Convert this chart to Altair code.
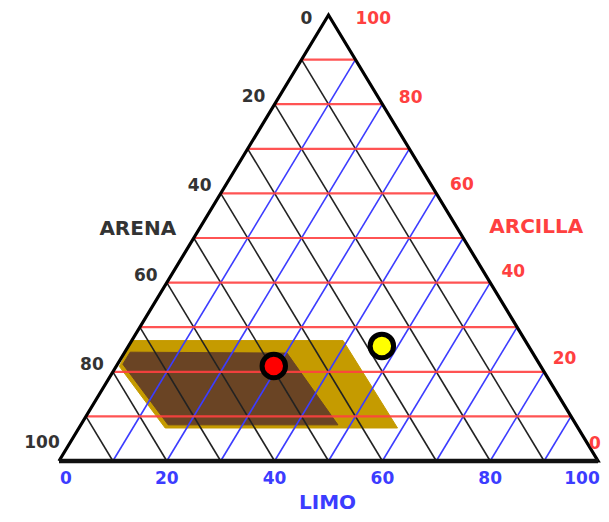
import altair as alt
import pandas as pd

# ---------------- data ----------------
grid_levels = [10, 20, 30, 40, 50, 60, 70, 80, 90]
tick_levels = [0, 20, 40, 60, 80, 100]

sample_names = ["Muestra A", "Muestra B"]
sample_sand = [49.5, 27.2]
sample_silt = [29.2, 47.0]
sample_clay = [21.3, 25.8]

# textural region (outer = wide band, inner = core), vertices as (clay, silt)
outer_clay = [27.0, 27.0, 7.4, 7.4, 21.2]
outer_silt = [0.0, 39.2, 59.1, 16.0, 0.6]
inner_clay = [24.4, 24.2, 8.1, 8.1, 21.7]
inner_silt = [1.0, 30.2, 47.7, 16.2, 1.0]

TITLE_SAND = "ARENA"
TITLE_CLAY = "ARCILLA"
TITLE_SILT = "LIMO"

# ---------------- layout ----------------
W, H = 593, 506
PX_LEFT, PX_RIGHT = 51, 590
PY_BASE, PY_APEX = 453, 7
KX = (PX_RIGHT - PX_LEFT) / 100.0
KY = (PY_BASE - PY_APEX) / 100.0
XMIN = -PX_LEFT / KX
XMAX = XMIN + W / KX
YMAX = 100 + PY_APEX / KY
YMIN = YMAX - H / KY

RED = "#ff4040"
BLUE = "#3c3cff"
DARK = "#222222"
FONT = "DejaVu Sans"


def cart(silt, clay):
    return silt + clay / 2.0, clay


def shift(x, y, dx, dy):
    return x + dx / KX, y - dy / KY


xs = alt.Scale(domain=[XMIN, XMAX], nice=False, zero=False)
ys = alt.Scale(domain=[YMIN, YMAX], nice=False, zero=False)
X = alt.X("x:Q", scale=xs, axis=None)
Y = alt.Y("y:Q", scale=ys, axis=None)

# grid lines
red_rows, black_rows, blue_rows = [], [], []
for v in grid_levels:
    x1, y1 = cart(0, v)
    x2, y2 = cart(100 - v, v)
    red_rows.append(dict(x=x1, y=y1, x2=x2, y2=y2))
    x1, y1 = cart(0, 100 - v)
    x2, y2 = cart(100 - v, 0)
    black_rows.append(dict(x=x1, y=y1, x2=x2, y2=y2))
    x1, y1 = cart(v, 0)
    x2, y2 = cart(v, 100 - v)
    blue_rows.append(dict(x=x1, y=y1, x2=x2, y2=y2))


def rules(rows, color, width, opacity=1):
    return alt.Chart(pd.DataFrame(rows)).mark_rule(
        color=color, strokeWidth=width, opacity=opacity).encode(
        x=X, y=Y, x2="x2:Q", y2="y2:Q")


red_layer = rules(red_rows, RED, 2.2, 0.9)
black_layer = rules(black_rows, DARK, 1.6)
blue_layer = rules(blue_rows, BLUE, 1.6)

# triangle outline
tri_pts = [cart(0, 0), cart(0, 100), cart(100, 0), cart(0, 0)]
tri_df = pd.DataFrame([dict(x=p[0], y=p[1], i=k) for k, p in enumerate(tri_pts)])
tri_layer = alt.Chart(tri_df).mark_line(color="black", strokeWidth=3.2, strokeJoin="miter").encode(
    x=X, y=Y, order="i:Q")
b0, b1 = cart(0, 0), cart(100, 0)
base_layer = alt.Chart(pd.DataFrame([dict(x=b0[0], y=b0[1], x2=b1[0], y2=b1[1])])).mark_rule(
    color="#111", strokeWidth=4.5).encode(x=X, y=Y, x2="x2:Q", y2="y2:Q")


def polygon(clays, silts, color):
    rows = []
    for k, (c, s) in enumerate(zip(clays, silts)):
        x, y = cart(s, c)
        rows.append(dict(x=x, y=y, i=k))
    x, y = cart(silts[0], clays[0])
    rows.append(dict(x=x, y=y, i=len(clays)))
    return alt.Chart(pd.DataFrame(rows)).mark_line(
        fill=color, stroke=color, strokeWidth=1, fillOpacity=1).encode(x=X, y=Y, order="i:Q")


outer_layer = polygon(outer_clay, outer_silt, "#c59b00")
inner_layer = polygon(inner_clay, inner_silt, "#6a4424")

# samples
pts = []
for n, s, c in zip(sample_names, sample_silt, sample_clay):
    x, y = cart(s, c)
    pts.append(dict(name=n, x=x, y=y))
pts_layer = alt.Chart(pd.DataFrame(pts)).mark_circle(
    size=550, stroke="black", strokeWidth=5, opacity=1).encode(
    x=X, y=Y,
    fill=alt.Fill("name:N", scale=alt.Scale(domain=sample_names, range=["#ff0000", "#ffff00"]),
                  legend=None))

# tick labels
sand_rows, clay_rows, silt_rows = [], [], []
for v in tick_levels:
    x, y = cart(0, 100 - v)
    if v == 0:
        dx, dy = -22, 4
    elif v == 100:
        dx, dy = -17, -18
    else:
        dx, dy = -21, -7
    lx, ly = shift(x, y, dx, dy)
    sand_rows.append(dict(x=lx, y=ly, t=str(v)))
    x, y = cart(100 - v, v)
    if v == 0:
        dx, dy = -9, -17   # keep the corner label inside the canvas
    elif v == 100:
        dx, dy = 27, 4
    else:
        dx = 6 + 0.13 * v
        dy = -15 + 0.11 * v
    lx, ly = shift(x, y, dx, dy)
    clay_rows.append(dict(x=lx, y=ly, t=str(v)))
    x, y = cart(v, 0)
    px = min(max(PX_LEFT + v * KX, PX_LEFT + 7), PX_RIGHT - 16)
    lx, ly = shift(XMIN + px / KX, y, 0, 18)
    silt_rows.append(dict(x=lx, y=ly, t=str(v)))


def labels(rows, color, align="center", size=17):
    return alt.Chart(pd.DataFrame(rows)).mark_text(
        font=FONT, fontWeight="bold", fontSize=size, color=color, align=align,
        baseline="middle").encode(x=X, y=Y, text="t:N")


sand_lab = labels(sand_rows, "#333333")
clay_lab = labels(clay_rows, RED, align="left")
silt_lab = labels(silt_rows, BLUE)

# axis titles
ax, ay = shift(*cart(0, 50), -56, -9)
cx, cy = shift(*cart(50, 50), 73, -11)
sx, sy = shift(*cart(50, 0), -1, 42)
titles = [
    dict(x=ax, y=ay, t=TITLE_SAND, g="sand"),
    dict(x=cx, y=cy, t=TITLE_CLAY, g="clay"),
    dict(x=sx, y=sy, t=TITLE_SILT, g="silt"),
]
title_layer = alt.Chart(pd.DataFrame(titles)).mark_text(
    font=FONT, fontWeight="bold", fontSize=20, baseline="middle").encode(
    x=X, y=Y, text="t:N",
    color=alt.Color("g:N", scale=alt.Scale(domain=["sand", "clay", "silt"],
                                           range=["#333333", RED, BLUE]), legend=None))

chart = alt.layer(
    outer_layer, inner_layer, black_layer, blue_layer, red_layer, tri_layer, base_layer,
    pts_layer, sand_lab, clay_lab, silt_lab, title_layer
).properties(width=W, height=H, padding=0, autosize="none").configure_view(stroke=None)

chart.save("out.html", embed_options={"renderer": "svg", "actions": False})
